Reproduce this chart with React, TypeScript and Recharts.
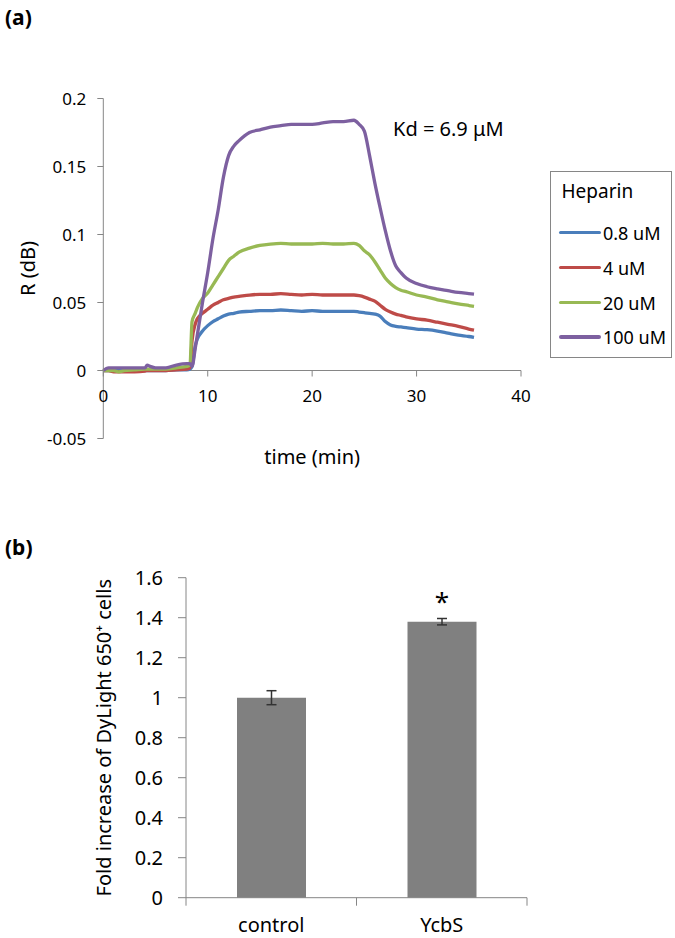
import React from 'react';
import {
  LineChart, Line, XAxis, YAxis, ReferenceLine, Legend,
  BarChart, Bar, ErrorBar, LabelList,
} from 'recharts';

// (a) binding curves, R (dB) vs time (min)
const times = [
  0, 0.5, 1, 1.5, 2, 3, 4, 4.2, 4.5, 5, 6, 7, 8, 8.3, 8.5, 8.8, 9, 9.5, 10, 10.5,
  11, 11.5, 12, 12.5, 13, 14, 15, 16, 17, 18, 19, 20, 21, 22, 23, 24, 24.5, 25, 25.5,
  26, 26.5, 27, 27.5, 28, 28.5, 29, 30, 31, 32, 33, 34, 35, 35.5,
];
const heparin08 = [
  0, 0, 0, 0, 0, 0, 0, 0, 0, 0, 0, 0.0005, 0.0005, 0.001, 0.003, 0.018, 0.023, 0.029, 0.033, 0.036,
  0.038, 0.04, 0.0415, 0.042, 0.043, 0.0435, 0.044, 0.044, 0.0445, 0.044, 0.0435, 0.044, 0.0435, 0.0435, 0.0435, 0.0435, 0.043, 0.0425, 0.042,
  0.0415, 0.04, 0.036, 0.0335, 0.0325, 0.032, 0.0315, 0.0305, 0.03, 0.029, 0.0275, 0.026, 0.025, 0.0243,
];
const heparin4 = [
  0, 0, -0.001, -0.001, -0.001, -0.001, -0.0005, 0, 0, 0, 0, 0.0005, 0.001, 0.002, 0.022, 0.034, 0.038, 0.042, 0.045, 0.048,
  0.05, 0.052, 0.053, 0.054, 0.0545, 0.0555, 0.056, 0.056, 0.0565, 0.056, 0.0555, 0.056, 0.0555, 0.0555, 0.0555, 0.0555, 0.055, 0.054, 0.0525,
  0.051, 0.048, 0.045, 0.043, 0.0415, 0.0405, 0.0395, 0.038, 0.037, 0.0355, 0.034, 0.0325, 0.0305, 0.0297,
];
const heparin20 = [
  0, 0, 0, -0.001, 0, 0.0005, 0.001, 0.001, 0.001, 0.001, 0.001, 0.002, 0.003, 0.004, 0.036, 0.042, 0.046, 0.053, 0.057, 0.063,
  0.069, 0.075, 0.081, 0.084, 0.087, 0.09, 0.092, 0.093, 0.0935, 0.093, 0.093, 0.093, 0.0935, 0.093, 0.093, 0.0935, 0.092, 0.088, 0.085,
  0.08, 0.074, 0.068, 0.064, 0.061, 0.059, 0.058, 0.0555, 0.054, 0.052, 0.0505, 0.049, 0.0478, 0.0472,
];
const heparin100 = [
  0, 0.002, 0.002, 0.002, 0.002, 0.002, 0.002, 0.004, 0.003, 0.002, 0.002, 0.004, 0.005, 0.005, 0.003, 0.016, 0.026, 0.05, 0.072, 0.097,
  0.118, 0.142, 0.158, 0.165, 0.169, 0.175, 0.177, 0.179, 0.18, 0.181, 0.181, 0.181, 0.182, 0.183, 0.183, 0.184, 0.181, 0.176, 0.158,
  0.138, 0.12, 0.103, 0.088, 0.077, 0.072, 0.068, 0.064, 0.0616, 0.06, 0.0587, 0.0574, 0.0566, 0.0562,
];
const seriesNames = ['0.8 uM', '4 uM', '20 uM', '100 uM'];
const seriesColors = ['#4a7ebb', '#be4b48', '#98b954', '#7d60a0'];
const xTicksA = [0, 10, 20, 30, 40];
const yTicksA = [-0.05, 0, 0.05, 0.1, 0.15, 0.2];

// (b) fold increase
const groups = ['control', 'YcbS'];
const foldIncrease = [1.0, 1.38];
const foldError = [0.035, 0.016];
const significance = ['', '*'];
const yTicksB = [0, 0.2, 0.4, 0.6, 0.8, 1, 1.2, 1.4, 1.6];

const AXIS = '#868686';
const FONT = '"Noto Sans", sans-serif';

const kinetics = times.map((t, i) => ({
  t,
  s0: heparin08[i],
  s1: heparin4[i],
  s2: heparin20[i],
  s3: heparin100[i],
}));

const bars = groups.map((group, i) => ({
  group,
  value: foldIncrease[i],
  err: foldError[i],
  mark: significance[i],
}));

// chart (a) geometry
const A_W = 675;
const A_H = 480;
const A_TOP = 98.5;
const A_XAXIS_H = 41.5;
const A_PLOT_H = A_H - A_TOP - A_XAXIS_H;
const Y_A_MIN = -0.05;
const Y_A_MAX = 0.2;
// x axis sits on y = 0, not at the bottom of the plot
const ZERO_SHIFT = (A_PLOT_H * (0 - Y_A_MIN)) / (Y_A_MAX - Y_A_MIN);

function TimeTick({ x, y, payload }: any) {
  const y0 = y - ZERO_SHIFT;
  return (
    <g>
      <line x1={x} x2={x} y1={y0} y2={y0 + 6} stroke={AXIS} />
      <text x={x} y={y0 + 19} dy="0.71em" textAnchor="middle" fontSize={17} fill="#000">
        {payload.value}
      </text>
    </g>
  );
}

function GroupTick({ x, y, payload, index, visibleTicksCount }: any) {
  const half = payload.offset ?? 85;
  return (
    <g>
      <line x1={x - half} x2={x - half} y1={y} y2={y + 8} stroke={AXIS} />
      {index === visibleTicksCount - 1 && (
        <line x1={x + half} x2={x + half} y1={y} y2={y + 8} stroke={AXIS} />
      )}
      <text x={x} y={y + 34} textAnchor="middle" fontSize={20} fill="#000">
        {payload.value}
      </text>
    </g>
  );
}

function HeparinLegend({ payload }: any) {
  const rowTops = [48.7, 83.7, 118.7, 153];
  return (
    <div
      style={{
        width: 122, height: 187, boxSizing: 'border-box', border: `1px solid ${AXIS}`,
        position: 'relative', background: '#fff', fontFamily: FONT, color: '#000',
      }}
    >
      <div style={{ position: 'absolute', left: 10.5, top: 7, fontSize: 19, lineHeight: '24px' }}>
        Heparin
      </div>
      {(payload || []).map((p: any, i: number) => (
        <div
          key={p.value}
          style={{ position: 'absolute', left: 8, top: rowTops[i], height: 24, display: 'flex', alignItems: 'center' }}
        >
          <div style={{ width: 42, height: 3.5, borderRadius: 2, background: p.color }} />
          <span style={{ marginLeft: 2, fontSize: 18, lineHeight: '24px' }}>{p.value}</span>
        </div>
      ))}
    </div>
  );
}

export default function App() {
  return (
    <div style={{ position: 'absolute', left: 0, top: 0, width: 675, height: 938, background: '#fff', fontFamily: FONT }}>
      <div style={{ position: 'absolute', left: 5, top: 3, fontSize: 21, lineHeight: '28px', fontWeight: 700 }}>(a)</div>
      <div style={{ position: 'absolute', left: 393, top: 115, fontSize: 20, lineHeight: '28px' }}>Kd = 6.9 μM</div>

      <div style={{ position: 'absolute', left: 0, top: 0 }}>
        <LineChart width={A_W} height={A_H} data={kinetics} margin={{ top: A_TOP, right: 154, left: 0, bottom: 0 }}>
          <XAxis
            dataKey="t"
            type="number"
            domain={[0, 40]}
            ticks={xTicksA}
            axisLine={false}
            tickLine={false}
            tickSize={0}
            tickMargin={0}
            height={A_XAXIS_H}
            tick={(props: any) => <TimeTick {...props} />}
            label={{ value: 'time (min)', position: 'insideBottom', offset: 16, fontSize: 20, fill: '#000' }}
          />
          <YAxis
            type="number"
            domain={[Y_A_MIN, Y_A_MAX]}
            ticks={yTicksA}
            width={103.3}
            stroke={AXIS}
            tickSize={6}
            tickMargin={11}
            tick={{ fontSize: 17, fill: '#000' }}
            tickFormatter={(v: number) => String(v)}
            label={{ value: 'R (dB)', angle: -90, position: 'insideLeft', offset: 28, fontSize: 20, fill: '#000', style: { textAnchor: 'middle' } }}
          />
          <ReferenceLine y={0} stroke={AXIS} />
          {seriesNames.map((name, i) => (
            <Line
              key={name}
              dataKey={`s${i}`}
              name={name}
              type="monotone"
              stroke={seriesColors[i]}
              strokeWidth={3.3}
              dot={false}
              isAnimationActive={false}
            />
          ))}
          <Legend
            layout="vertical"
            align="center"
            verticalAlign="middle"
            itemSorter="dataKey"
            wrapperStyle={{ left: 550, top: 171, width: 122, height: 187 }}
            content={(props: any) => <HeparinLegend payload={props.payload} />}
          />
        </LineChart>
      </div>

      <div style={{ position: 'absolute', left: 5, top: 533, fontSize: 21, lineHeight: '28px', fontWeight: 700 }}>(b)</div>

      <div style={{ position: 'absolute', left: 0, top: 560 }}>
        <BarChart width={675} height={378} data={bars} margin={{ top: 17.7, right: 148, left: 0, bottom: 0 }}>
          <XAxis
            dataKey="group"
            stroke={AXIS}
            tickLine={false}
            tickSize={0}
            tickMargin={0}
            height={40.3}
            tick={(props: any) => <GroupTick {...props} />}
          />
          <YAxis
            type="number"
            domain={[0, 1.6]}
            ticks={yTicksB}
            width={186}
            stroke={AXIS}
            tickSize={8}
            tickMargin={15}
            tick={{ fontSize: 20, fill: '#000' }}
            tickFormatter={(v: number) => String(v)}
            label={{
              value: 'Fold increase of DyLight 650⁺ cells', angle: -90, position: 'insideLeft',
              offset: 104, fontSize: 20, fill: '#000', style: { textAnchor: 'middle' },
            }}
          />
          <Bar dataKey="value" fill="#808080" barSize={69} isAnimationActive={false}>
            <ErrorBar dataKey="err" width={5} stroke="#333" strokeWidth={1.5} direction="y" />
            <LabelList dataKey="mark" position="top" offset={11} fontSize={26} fill="#000" />
          </Bar>
        </BarChart>
      </div>
    </div>
  );
}
